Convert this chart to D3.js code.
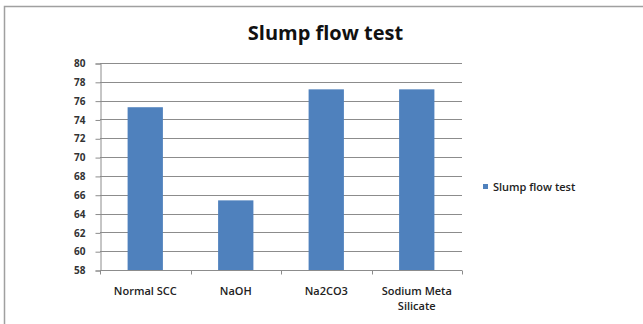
<!DOCTYPE html>
<html><head><meta charset="utf-8">
<script src="https://cdn.jsdelivr.net/npm/d3@7"></script>
<style>html,body{margin:0;padding:0;background:#fff;overflow:hidden}</style>
</head><body>
<svg id="c" width="643" height="324"></svg>
<script>
const categories = [["Normal SCC"], ["NaOH"], ["Na2CO3"], ["Sodium Meta", "Silicate"]];
const values = [75.3, 65.4, 77.2, 77.2];
const yTicks = [58, 60, 62, 64, 66, 68, 70, 72, 74, 76, 78, 80];
const seriesName = "Slump flow test";
const title = "Slump flow test";

(function () {
const svg = d3.select("#c");
const font = "'Open Sans', 'Liberation Sans', sans-serif";
// frame
svg.append("path").attr("d", "M4.5,330 V6.5 H650").attr("fill", "none").attr("stroke", "#a0a0a0").attr("stroke-width", 1.5);

const pl = 100, pr = 462, pt = 63, pb = 270;
const x = d3.scaleBand().domain(d3.range(values.length)).range([pl, pr]).paddingInner(0.61).paddingOuter(0.305);
const y = d3.scaleLinear().domain([58, 80]).range([pb, pt]);

// gridlines
svg.append("g").selectAll("line").data(yTicks.slice(1)).join("line")
  .attr("x1", pl).attr("x2", pr)
  .attr("y1", d => Math.round(y(d)) + 0.5).attr("y2", d => Math.round(y(d)) + 0.5)
  .attr("stroke", "#8c8c8c").attr("stroke-width", 1);

// bars
svg.append("g").selectAll("rect").data(values).join("rect")
  .attr("x", (d, i) => x(i)).attr("width", x.bandwidth())
  .attr("y", d => y(d)).attr("height", d => pb - y(d))
  .attr("fill", "#4f81bd");

// y axis
const yAxis = d3.axisLeft(y).tickValues(yTicks).tickSize(5).tickPadding(10).tickFormat(d3.format("d"));
const gy = svg.append("g").attr("transform", `translate(${pl + 0.5},0.5)`).call(yAxis);
gy.select(".domain").attr("stroke", "#8c8c8c");
gy.selectAll(".tick line").attr("stroke", "#8c8c8c");
gy.selectAll("text").attr("font-family", font).attr("font-size", 10).attr("font-weight", 700).attr("fill", "#333");

// x axis with ticks at category boundaries
const gx = svg.append("g").attr("transform", `translate(0,${pb + 0.5})`);
gx.append("line").attr("x1", pl).attr("x2", pr).attr("stroke", "#8c8c8c");
gx.selectAll(".tk").data(d3.range(values.length + 1)).join("line").attr("class", "tk")
  .attr("x1", i => Math.round(pl + i * (pr - pl) / values.length) + 0.5)
  .attr("x2", i => Math.round(pl + i * (pr - pl) / values.length) + 0.5)
  .attr("y1", 0).attr("y2", 4).attr("stroke", "#8c8c8c");
gx.selectAll("text").data(categories).join("text")
  .attr("x", (d, i) => x(i) + x.bandwidth() / 2)
  .attr("y", 24.5)
  .attr("text-anchor", "middle")
  .attr("font-family", font).attr("font-size", 11).attr("font-weight", 600).attr("fill", "#222")
  .selectAll("tspan").data(d => d).join("tspan")
  .attr("x", function () { return d3.select(this.parentNode).attr("x"); })
  .attr("dy", (d, i) => i === 0 ? 0 : 15)
  .text(d => d);

// title
svg.append("text").attr("x", 325.5).attr("y", 40).attr("text-anchor", "middle")
  .attr("font-family", font).attr("font-size", 20).attr("font-weight", 700).attr("fill", "#111")
  .text(title);

// legend
const lg = svg.append("g").attr("transform", "translate(483,184)");
lg.append("rect").attr("width", 5).attr("height", 5).attr("fill", "#4f81bd");
lg.append("text").attr("x", 10).attr("y", 6.5).attr("font-family", font).attr("font-size", 11).attr("font-weight", 600).attr("fill", "#222").text(seriesName);
})();
</script>
</body></html>
